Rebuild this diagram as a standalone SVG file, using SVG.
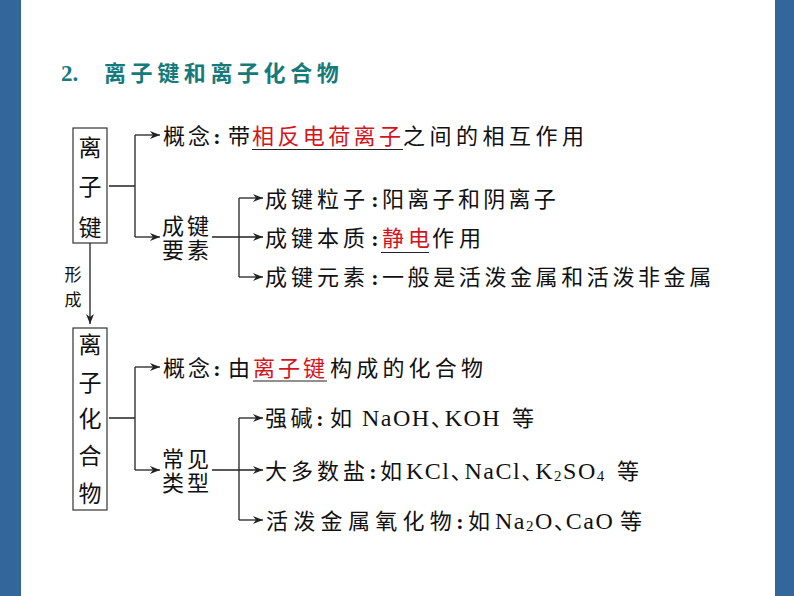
<svg xmlns="http://www.w3.org/2000/svg" width="794" height="596" viewBox="0 0 794 596">
<style>
.cn{font-family:"Noto Sans CJK SC","Noto Sans",sans-serif;font-size:22px;fill:#111}
.lat{font-family:"Liberation Serif","Noto Sans CJK SC",serif;font-size:24px;fill:#111;letter-spacing:1.5px}
.dun{font-family:"Noto Sans CJK SC",sans-serif;font-size:22px;letter-spacing:-8px}
.sub{font-size:15px}
.red{fill:#d4141c}
.box{fill:#fff;stroke:#333;stroke-width:1.2}
.bx{font-family:"Noto Sans CJK SC",sans-serif;font-size:23px;fill:#111;text-anchor:middle}
.col{font-family:"Liberation Serif",serif;font-size:22px;font-weight:bold;fill:#111;text-anchor:middle}
.ln{fill:none;stroke:#222;stroke-width:1.3}
.ul{stroke:#222;stroke-width:1.2}
</style>
<defs>
<marker id="ah" markerUnits="userSpaceOnUse" viewBox="0 0 10 8" refX="10" refY="4" markerWidth="10" markerHeight="8" orient="auto">
<path d="M0,0 L10,4 L0,8 L3,4 z" fill="#222"/>
</marker>
</defs>
<rect x="0" y="0" width="794" height="596" fill="#fff"/>
<rect x="0" y="0" width="21" height="596" fill="#33669a"/>
<rect x="775" y="0" width="19" height="596" fill="#33669a"/>

<g id="title">
<text x="61" y="81" font-family="'Liberation Serif',serif" font-size="23" font-weight="bold" fill="#167a7a">2.</text>
<text x="104" y="81" font-family="'Noto Sans CJK SC',sans-serif" font-size="22" font-weight="bold" fill="#167a7a" letter-spacing="4.6">离子键和离子化合物</text>
</g>

<g id="connectors">
<path class="ln" d="M109,186 H135 M135,135 V237"/>
<path class="ln" d="M135,135 H160" marker-end="url(#ah)"/>
<path class="ln" d="M135,237 H160" marker-end="url(#ah)"/>
<path class="ln" d="M239,198 V277"/>
<path class="ln" d="M212,237 H263" marker-end="url(#ah)"/>
<path class="ln" d="M239,198 H263" marker-end="url(#ah)"/>
<path class="ln" d="M239,277 H263" marker-end="url(#ah)"/>
<path class="ln" d="M90,243 V324" marker-end="url(#ah)"/>
<path class="ln" d="M109,418 H135 M135,367 V470"/>
<path class="ln" d="M135,367 H160" marker-end="url(#ah)"/>
<path class="ln" d="M135,470 H160" marker-end="url(#ah)"/>
<path class="ln" d="M239,418 V520"/>
<path class="ln" d="M212,470 H263" marker-end="url(#ah)"/>
<path class="ln" d="M239,418 H263" marker-end="url(#ah)"/>
<path class="ln" d="M239,520 H263" marker-end="url(#ah)"/>
</g>

<g id="ionic-bond">
<rect class="box" x="73" y="128" width="34" height="115"/>
<text class="bx" x="90" y="156">离</text>
<text class="bx" x="90" y="195">子</text>
<text class="bx" x="90" y="236">键</text>
</g>

<g id="form-label">
<text x="73" y="281" font-family="'Noto Sans CJK SC',sans-serif" font-size="17" fill="#111" text-anchor="middle">形</text>
<text x="73" y="306" font-family="'Noto Sans CJK SC',sans-serif" font-size="17" fill="#111" text-anchor="middle">成</text>
</g>

<g id="concept1">
<text class="cn" x="163" y="144" letter-spacing="3">概念</text>
<text class="col" x="217" y="144">:</text>
<text class="cn" x="228" y="144">带</text>
<text class="cn red" x="252" y="144" letter-spacing="3.4">相反电荷离子</text>
<text class="cn" x="403" y="144" letter-spacing="4.5">之间的相互作用</text>
<line class="ul" x1="252" y1="149.5" x2="403" y2="149.5"/>
</g>

<g id="elements">
<text class="cn" letter-spacing="3"><tspan x="162" y="234">成键</tspan><tspan x="162" y="257.5">要素</tspan></text>
</g>

<g id="particles">
<text class="cn" x="265" y="207" letter-spacing="4">成键粒子</text>
<text class="col" x="375" y="207">:</text>
<text class="cn" x="382" y="207" letter-spacing="3.3">阳离子和阴离子</text>
</g>

<g id="nature">
<text class="cn" x="265" y="246" letter-spacing="4">成键本质</text>
<text class="col" x="375" y="246">:</text>
<text class="cn red" x="382" y="246" letter-spacing="4">静电</text>
<text class="cn" x="432" y="246" letter-spacing="5">作用</text>
<line class="ul" x1="381" y1="252.5" x2="429" y2="252.5"/>
</g>

<g id="element-types">
<text class="cn" x="265" y="285" letter-spacing="4">成键元素</text>
<text class="col" x="375" y="285">:</text>
<text class="cn" x="382" y="285" letter-spacing="3.6">一般是活泼金属和活泼非金属</text>
</g>

<g id="ionic-compound">
<rect class="box" x="73" y="328" width="34" height="182"/>
<text class="bx" x="90" y="353">离</text>
<text class="bx" x="90" y="391">子</text>
<text class="bx" x="90" y="427">化</text>
<text class="bx" x="90" y="464">合</text>
<text class="bx" x="90" y="502">物</text>
</g>

<g id="concept2">
<text class="cn" x="163" y="376" letter-spacing="3">概念</text>
<text class="col" x="217" y="376">:</text>
<text class="cn" x="228" y="376">由</text>
<text class="cn red" x="253" y="376" letter-spacing="3">离子键</text>
<text class="cn" x="330" y="376" letter-spacing="4.2">构成的化合物</text>
<line class="ul" x1="253" y1="381" x2="327" y2="381"/>
</g>

<g id="common-types">
<text class="cn" letter-spacing="3"><tspan x="162" y="467">常见</tspan><tspan x="162" y="491">类型</tspan></text>
</g>

<g id="strong-base">
<text class="cn" x="265" y="426" letter-spacing="3.5">强碱</text>
<text class="col" x="320" y="426">:</text>
<text class="cn" x="330" y="426">如</text>
<text class="lat" x="362" y="426">NaOH<tspan class="dun">、</tspan>KOH</text>
<text class="cn" x="512" y="426">等</text>
</g>

<g id="salts">
<text class="cn" x="265" y="479" letter-spacing="4">大多数盐</text>
<text class="col" x="373" y="479">:</text>
<text class="cn" x="380" y="479">如</text>
<text class="lat" x="406" y="479">KCl<tspan class="dun">、</tspan>NaCl<tspan class="dun">、</tspan>K<tspan class="sub" dy="2">2</tspan><tspan dy="-2">SO</tspan><tspan class="sub" dy="2">4</tspan></text>
<text class="cn" x="617" y="479">等</text>
</g>

<g id="oxides">
<text class="cn" x="266" y="529" letter-spacing="5.3">活泼金属氧化物</text>
<text class="col" x="460" y="529">:</text>
<text class="cn" x="468" y="529">如</text>
<text class="lat" x="495" y="529">Na<tspan class="sub" dy="2">2</tspan><tspan dy="-2">O</tspan><tspan class="dun" style="letter-spacing:-10px">、</tspan>CaO</text>
<text class="cn" x="620" y="529">等</text>
</g>
</svg>
